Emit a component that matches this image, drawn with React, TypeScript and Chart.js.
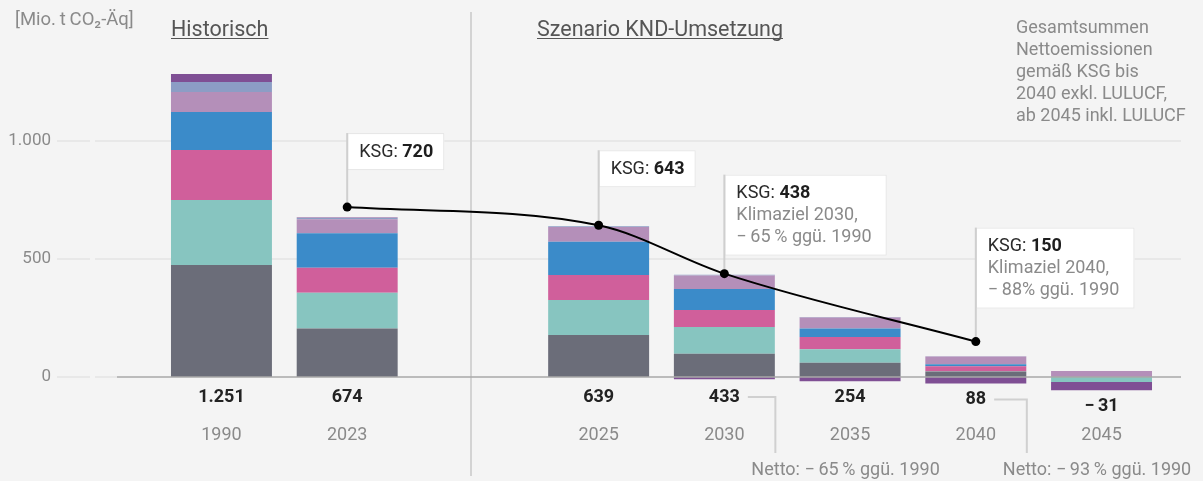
import React, { useEffect, useRef } from "react";
import { Chart, registerables } from "chart.js";

Chart.register(...registerables);

// ---------- data ----------
const categories = ["1990", "2023", "", "2025", "2030", "2035", "2040", "2045"];
const energy = [475, 206, null, 178, 99, 60, 23, 0];
const industry = [275, 151, null, 148, 113, 58, 1, -21];
const buildings = [212, 106, null, 106, 72, 52, 22, 0];
const transport = [161, 146, null, 141, 89, 35, 8, 0];
const agriculture = [85, 59, null, 63, 57, 47, 33, 25];
const waste = [42, 6, null, 3, 3, 2, 1, 0];
const lulucf = [34, 2, null, 0, -10, -18, -28, -35];
const ksgTargets = [null, 720, null, 643, 438, null, 150, null];
const netTotals = [1251, 674, null, 639, 433, 254, 88, -31];
const yTicks = [0, 500, 1000];
const ksgNotes: string[][] = [
  [],
  [],
  [],
  [],
  ["Klimaziel 2030,", "\u2212\u200965\u2009% ggü. 1990"],
  [],
  ["Klimaziel 2040,", "\u2212\u200988% ggü. 1990"],
  [],
];
const nettoNotes = [
  "",
  "",
  "",
  "",
  "Netto: \u2212\u200965\u2009% ggü. 1990",
  "",
  "Netto: \u2212\u200993\u2009% ggü. 1990",
  "",
];
const unitLabel = "[Mio.\u2009t\u2009CO\u2082-Äq]";
const headerHist = "Historisch";
const headerScen = "Szenario KND-Umsetzung";
const sideNote = [
  "Gesamtsummen",
  "Nettoemissionen",
  "gemäß KSG bis",
  "2040 exkl. LULUCF,",
  "ab 2045 inkl. LULUCF",
];

// ---------- layout / style (not data) ----------
const ksgBoxRise = [0, 74, 0, 75, 99, 0, 114, 0];
const FONT = "Roboto, 'Noto Sans', 'DejaVu Sans', sans-serif";
const f = (size: number, weight = "normal") => `${weight} ${size}px ${FONT}`;
const GRAY_TEXT = "#8a8a8a";

const seriesDefs = [
  { label: "Energiewirtschaft", data: energy, color: "#6b6d79" },
  { label: "Industrie", data: industry, color: "#87c5c0" },
  { label: "Gebäude", data: buildings, color: "#d05f9b" },
  { label: "Verkehr", data: transport, color: "#3b8bc9" },
  { label: "Landwirtschaft", data: agriculture, color: "#b48fb9" },
  { label: "Abfall", data: waste, color: "#8c9dc5" },
  { label: "LULUCF", data: lulucf, color: "#7f4f94" },
];

function fmt(n: number): string {
  const a = Math.abs(n);
  const s = String(a).replace(/\B(?=(\d{3})+(?!\d))/g, ".");
  return n < 0 ? "\u2212\u2009" + s : s;
}

function labelY(chart: any, i: number): number {
  const y = chart.scales.y;
  let neg = 0;
  seriesDefs.forEach((s) => {
    const v = s.data[i];
    if (v != null && v < 0) neg += v;
  });
  return Math.max(397, y.getPixelForValue(neg) + 16);
}

const decor = {
  id: "decor",
  beforeDatasetsDraw(chart: any) {
    const { ctx } = chart;
    const x = chart.scales.x;
    const y = chart.scales.y;
    ctx.save();

    // grid lines
    ctx.strokeStyle = "#e8e8e8";
    ctx.lineWidth = 2;
    yTicks.forEach((v) => {
      const py = Math.round(y.getPixelForValue(v));
      ctx.beginPath();
      ctx.moveTo(57, py);
      ctx.lineTo(90, py);
      ctx.moveTo(95, py);
      ctx.lineTo(v === 0 ? 117 : 1181, py);
      ctx.stroke();
    });

    // divider
    ctx.strokeStyle = "#d3d3d3";
    ctx.lineWidth = 2;
    ctx.beginPath();
    ctx.moveTo(471, 12);
    ctx.lineTo(471, 476);
    ctx.stroke();

    // unit label
    ctx.textAlign = "left";
    ctx.textBaseline = "alphabetic";
    ctx.fillStyle = GRAY_TEXT;
    ctx.font = f(18.5);
    ctx.fillText(unitLabel, 15, 25);

    // headers
    ctx.fillStyle = "#555555";
    ctx.strokeStyle = "#555555";
    ctx.lineWidth = 1;
    ctx.font = f(21.5);
    [
      [headerHist, 171],
      [headerScen, 537],
    ].forEach(([t, hx]: any) => {
      ctx.fillText(t, hx, 36);
      const w = ctx.measureText(t).width;
      ctx.beginPath();
      ctx.moveTo(hx, 38.5);
      ctx.lineTo(hx + w, 38.5);
      ctx.stroke();
    });

    // side note
    ctx.fillStyle = GRAY_TEXT;
    ctx.font = f(18);
    ctx.textBaseline = "middle";
    sideNote.forEach((t, k) => ctx.fillText(t, 1016, 28 + k * 22.2));

    // KSG annotation boxes
    ksgTargets.forEach((v, i) => {
      if (v == null) return;
      const px = x.getPixelForValue(i);
      const py = y.getPixelForValue(v);
      const lines = ksgNotes[i];
      const top = py - ksgBoxRise[i];
      const head = "KSG: ";
      ctx.font = f(18);
      const hw = ctx.measureText(head).width;
      ctx.font = f(18, "bold");
      const nw = ctx.measureText(String(v)).width;
      let w = hw + nw;
      ctx.font = f(18);
      lines.forEach((l) => (w = Math.max(w, ctx.measureText(l).width)));
      const boxW = w + (lines.length ? 27 : 23);
      const boxH = 37 + lines.length * 22;
      ctx.fillStyle = "#ffffff";
      ctx.fillRect(px, top, boxW, boxH);
      ctx.strokeStyle = "#e6e6e6";
      ctx.lineWidth = 1;
      ctx.strokeRect(px + 0.5, top + 0.5, boxW - 1, boxH - 1);
      ctx.strokeStyle = "#cfcfcf";
      ctx.lineWidth = 2;
      ctx.beginPath();
      ctx.moveTo(px, top);
      ctx.lineTo(px, py);
      ctx.stroke();
      ctx.textAlign = "left";
      ctx.textBaseline = "middle";
      ctx.fillStyle = "#2b2b2b";
      ctx.font = f(18);
      ctx.fillText(head, px + 12, top + 19);
      ctx.fillStyle = "#1e1e1e";
      ctx.font = f(18, "bold");
      ctx.fillText(String(v), px + 12 + hw, top + 19);
      ctx.fillStyle = GRAY_TEXT;
      ctx.font = f(18);
      lines.forEach((l, k) => ctx.fillText(l, px + 12, top + 19 + 22 * (k + 1)));
    });

    ctx.restore();
  },
  afterDatasetsDraw(chart: any) {
    const { ctx } = chart;
    const x = chart.scales.x;
    const y = chart.scales.y;
    ctx.save();
    const y0 = y.getPixelForValue(0);
    ctx.strokeStyle = "#a9a9a9";
    ctx.lineWidth = 1.5;
    ctx.beginPath();
    ctx.moveTo(117, y0);
    ctx.lineTo(1181, y0);
    ctx.stroke();

    ctx.textBaseline = "middle";
    categories.forEach((c, i) => {
      if (!c) return;
      const px = x.getPixelForValue(i);
      const ly = labelY(chart, i);
      ctx.textAlign = "center";
      ctx.font = f(18, "bold");
      ctx.fillStyle = "#222222";
      const tl = fmt(netTotals[i] as number);
      ctx.fillText(tl, px, ly);
      const tw = ctx.measureText(tl).width;
      ctx.font = f(18);
      ctx.fillStyle = GRAY_TEXT;
      ctx.fillText(c, px, 435);

      const note = nettoNotes[i];
      if (note) {
        const x0 = px + tw / 2 + 8;
        const x1 = px + 51;
        ctx.strokeStyle = "#d0d0d0";
        ctx.lineWidth = 2;
        ctx.beginPath();
        ctx.moveTo(x0, ly);
        ctx.lineTo(x1, ly);
        ctx.lineTo(x1, 453);
        ctx.stroke();
        ctx.textAlign = "left";
        ctx.font = f(18);
        ctx.fillStyle = GRAY_TEXT;
        ctx.fillText(note, px + 27, 470);
      }
    });
    ctx.restore();
  },
};

export default function App() {
  const ref = useRef<HTMLCanvasElement>(null);
  useEffect(() => {
    const canvas = ref.current!;
    const chart = new Chart(canvas, {
      type: "bar",
      data: {
        labels: categories,
        datasets: [
          {
            type: "line",
            label: "KSG",
            data: ksgTargets,
            borderColor: "#000000",
            borderWidth: 2,
            pointRadius: 4.5,
            pointBackgroundColor: "#000000",
            pointBorderWidth: 0,
            spanGaps: true,
            cubicInterpolationMode: "monotone",
            stack: "ksg",
            order: 0,
            fill: false,
          } as any,
          ...seriesDefs.map((s) => ({
            type: "bar",
            label: s.label,
            data: s.data,
            backgroundColor: s.color,
            borderWidth: 0,
            barPercentage: 0.803,
            categoryPercentage: 1,
            stack: "sectors",
            order: 1,
          })),
        ] as any,
      },
      options: {
        responsive: false,
        animation: false,
        events: [],
        layout: { padding: { top: 70.2, bottom: 89.84, right: 38.6, left: 0 } },
        plugins: { legend: { display: false }, tooltip: { enabled: false } },
        scales: {
          x: { stacked: true, display: false, offset: true, grid: { display: false } },
          y: {
            stacked: true,
            min: -60,
            max: 1300,
            position: "left",
            grid: { display: false, drawTicks: true, tickLength: 103.6 },
            border: { display: false },
            ticks: {
              padding: 4,
              color: GRAY_TEXT,
              font: { family: FONT, size: 17 },
              callback: (v: any) => fmt(Number(v)),
            },
            afterBuildTicks: (s: any) => {
              s.ticks = yTicks.map((v) => ({ value: v }));
            },
            afterFit: (s: any) => {
              s.width = 158.6;
            },
          },
        },
      } as any,
      plugins: [decor],
    });
    return () => chart.destroy();
  }, []);

  return (
    <div
      style={{
        position: "fixed",
        left: 0,
        top: 0,
        width: 1203,
        height: 481,
        background: "#f4f4f4",
      }}
    >
      <canvas ref={ref} width={1203} height={481} style={{ display: "block" }} />
    </div>
  );
}
